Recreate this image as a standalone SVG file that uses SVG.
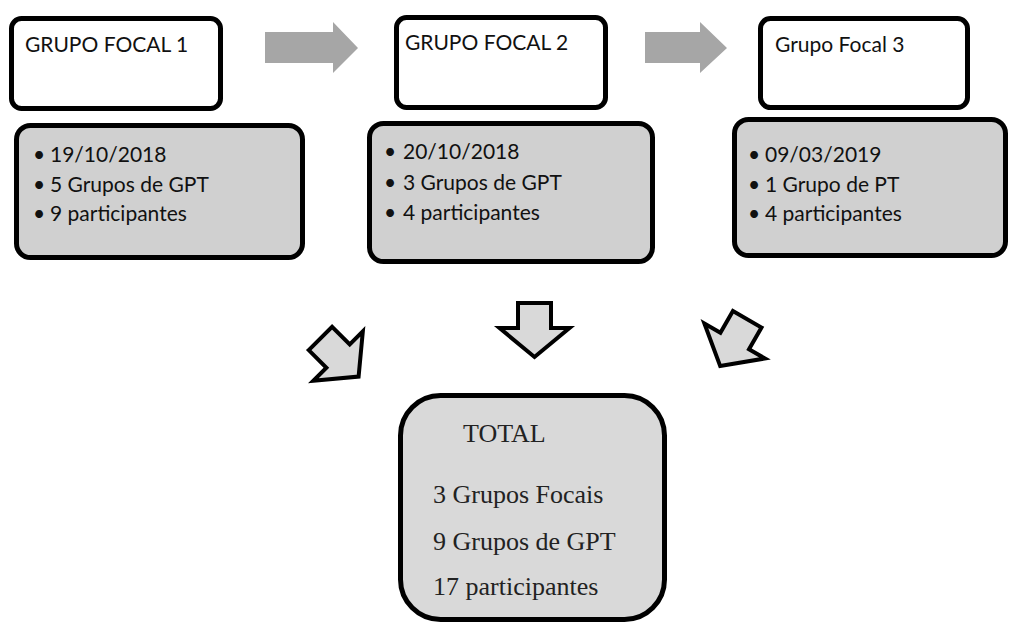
<svg xmlns="http://www.w3.org/2000/svg" width="1011" height="623" viewBox="0 0 1011 623">
<defs>
<style>
.top{fill:#ffffff;stroke:#000;stroke-width:5}
.det{fill:#d0d0d0;stroke:#000;stroke-width:5}
.tot{fill:#d9d9d9;stroke:#000;stroke-width:5}
.lbl{font-family:Lato,"Liberation Sans",sans-serif;font-size:21px;fill:#111}
.ser{font-family:"Liberation Serif","Times New Roman",serif;font-size:26px;fill:#222}
.garrow{fill:#a6a6a6}
.barrow{fill:#d9d9d9;stroke:#000;stroke-width:4;stroke-linejoin:miter}
</style>
<path id="dn" d="M-16.5,-27 H16.5 V-2 H35 L0,27 L-35,-2 H-16.5 Z"/>
</defs>
<rect width="1011" height="623" fill="#fff"/>
<g id="gf1">
<rect class="top" x="11.5" y="18.5" width="209" height="90" rx="10"/>
<text class="lbl" x="25" y="52">GRUPO FOCAL 1</text>
</g>
<g id="gf1-details">
<rect class="det" x="16.5" y="125.5" width="286" height="132" rx="14"/>
<text class="lbl" x="33" y="162">•</text><text class="lbl" x="50" y="162">19/10/2018</text>
<text class="lbl" x="33" y="192">•</text><text class="lbl" x="50" y="192">5 Grupos de GPT</text>
<text class="lbl" x="33" y="221">•</text><text class="lbl" x="50" y="221">9 participantes</text>
</g>
<g id="gf2">
<rect class="top" x="396.5" y="17.5" width="209" height="90" rx="10"/>
<text class="lbl" x="405" y="50">GRUPO FOCAL 2</text>
</g>
<g id="gf2-details">
<rect class="det" x="369.5" y="123.5" width="283" height="138" rx="14"/>
<text class="lbl" x="384" y="159">•</text><text class="lbl" x="403" y="159">20/10/2018</text>
<text class="lbl" x="384" y="190">•</text><text class="lbl" x="403" y="190">3 Grupos de GPT</text>
<text class="lbl" x="384" y="220">•</text><text class="lbl" x="403" y="220">4 participantes</text>
</g>
<g id="gf3">
<rect class="top" x="760.5" y="18.5" width="207" height="89" rx="10"/>
<text class="lbl" x="775" y="52">Grupo Focal 3</text>
</g>
<g id="gf3-details">
<rect class="det" x="734.5" y="119.5" width="271" height="136" rx="14"/>
<text class="lbl" x="748" y="162">•</text><text class="lbl" x="765" y="162">09/03/2019</text>
<text class="lbl" x="748" y="192">•</text><text class="lbl" x="765" y="192">1 Grupo de PT</text>
<text class="lbl" x="748" y="221">•</text><text class="lbl" x="765" y="221">4 participantes</text>
</g>
<g id="total">
<rect class="tot" x="400.5" y="395.5" width="264" height="224" rx="40"/>
<text class="ser" x="463" y="442">TOTAL</text>
<text class="ser" x="433" y="503">3 Grupos Focais</text>
<text class="ser" x="433" y="550">9 Grupos de GPT</text>
<text class="ser" x="433" y="595">17 participantes</text>
</g>
<g id="connectors">
<polygon class="garrow" points="265,32 333,32 333,22 358,48 333,73 333,63 265,63"/>
<polygon class="garrow" points="645,32 700,32 700,22 727,48 700,73 700,63 645,63"/>
<use href="#dn" class="barrow" transform="translate(339.5,357.5) rotate(-45)"/>
<use href="#dn" class="barrow" transform="translate(534.5,330)"/>
<use href="#dn" class="barrow" transform="translate(733.7,342.7) rotate(30)"/>
</g>
</svg>
